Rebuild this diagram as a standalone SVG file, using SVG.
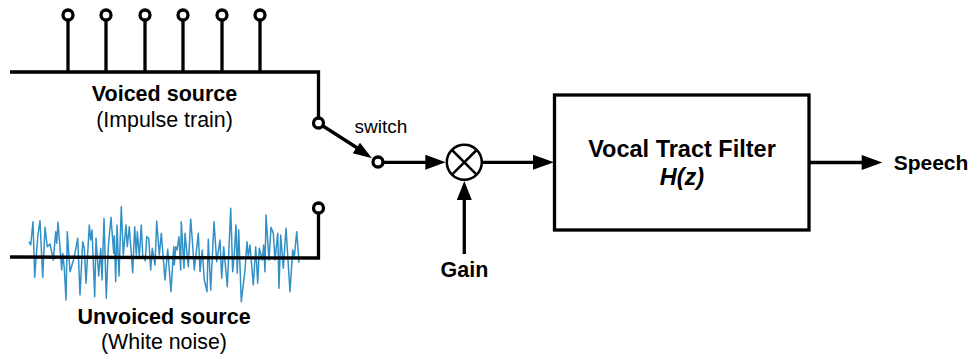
<svg xmlns="http://www.w3.org/2000/svg" width="972" height="356" viewBox="0 0 972 356">
<style>
.w{fill:none;stroke:#000;stroke-width:3.300}
.t{fill:none;stroke:#000;stroke-width:3.300;stroke-linejoin:miter}
.c{fill:#fff;stroke:#000;stroke-width:3.300}
.h{fill:#000;stroke:none}
text{font-family:"Liberation Sans",Arial,sans-serif;fill:#000;text-anchor:middle}
.b{font-weight:700;font-size:21.500px}
.r{font-size:21.400px}
</style>
<rect width="972" height="356" fill="#fff"/>
<g id="voiced-source">
<path class="t" d="M10 72H318.500V118"/>
<path class="w" d="M68 72V20M106 72V20M145 72V20M183 72V20M222 72V20M260 72V20"/>
<circle class="c" cx="68" cy="15" r="5"/><circle class="c" cx="106" cy="15" r="5"/><circle class="c" cx="145" cy="15" r="5"/><circle class="c" cx="183" cy="15" r="5"/><circle class="c" cx="222" cy="15" r="5"/><circle class="c" cx="260" cy="15" r="5"/>
<text class="b" x="164.500" y="100.500">Voiced source</text>
<text class="r" x="164.500" y="126.500">(Impulse train)</text>
</g>
<g id="unvoiced-source">
<polyline fill="none" stroke="#3390c6" stroke-width="1.500" stroke-linejoin="round" points="29,241.700 30.700,245 33,221.700 34.700,277.300 37.700,236.700 40,220.700 42.700,277.300 45,227.300 47.300,246.700 50,244 53.300,260 55.700,231.700 56.700,243.300 58,222.300 61.700,270 62.700,253.300 64.300,268.300 66,300 67.300,231.700 70,271.700 74,258.300 77.700,238.300 80,295 82.700,241.700 84.300,248.300 86,283.300 89.300,225 90.700,240 92,230 94.700,296.700 96,238.300 98.700,276 100.700,248.300 102,280 104,218.300 106.300,298.300 108.300,246.700 111,217.300 113.700,253.300 114.300,235.700 115.700,281.700 117,225 119,276 121.300,206.700 123.300,255 126,225 127.300,246.700 129.300,226.700 132.700,272.700 134.700,226.700 136.300,255 137.300,231.700 139.300,256.700 141.300,225 142.700,255 145.300,260.700 146.700,236.700 148.700,238.300 150.700,270 152.300,248.300 155,265 156.700,221 159.300,255 161.300,233.300 165,280 167.700,249.300 171,291.700 173.700,246.700 174.300,265 175.700,246.700 177,250 179,236.700 180.700,270 181.300,221.700 184,268.300 185,233.300 188.300,266.700 190.700,219 192.300,240 194.300,270 198.300,233.300 200,271.700 202.300,250 204.300,280 207,291.700 208.300,239.300 210.700,290 214,221.700 216.700,261.700 220,240 221.700,278.300 223.700,246.700 227.300,286.700 230.700,208.300 232.700,271.700 234.300,253.300 236,225 237.300,273.300 238.700,230 241.300,301.700 245,270 247,241.700 248.300,256.700 250,245 253.300,285 255.700,246.700 257.700,283.300 259.300,248.300 262.300,260 263.700,245 265,271.700 266,215 269,260 271,227.300 273.300,233.300 275,260 277.700,233.300 279,288.300 280.700,235 283.300,268.300 286,228.300 290,291.700 292.700,250 294.300,256.700 296.700,231.700 299,262.700"/>
<path class="t" d="M10 257L318.500 258V213"/>
<circle class="c" cx="318.500" cy="208" r="5"/>
<text class="b" x="164" y="323.500">Unvoiced source</text>
<text class="r" x="164" y="348.500">(White noise)</text>
</g>
<g id="switch">
<circle class="c" cx="318.500" cy="123" r="5"/>
<circle class="c" cx="378" cy="162" r="5"/>
<text x="381" y="132.500" font-size="19px">switch</text>
</g>
<g id="multiplier">
<circle class="c" cx="464.300" cy="162.300" r="17.500" style="stroke-width:2.500"/>
<path class="w" style="stroke-width:2.500" d="M452 150L476.600 174.600M476.600 150L452 174.600"/>
</g>
<g id="gain"><text class="b" x="464.500" y="277">Gain</text></g>
<g id="filter">
<rect class="c" x="554.500" y="95" width="254.500" height="135"/>
<text class="b" x="682" y="157.300" style="font-size:23.500px">Vocal Tract Filter</text>
<text class="b" x="682" y="185" font-style="italic" style="font-size:23.500px">H(z)</text>
</g>
<g id="speech"><text class="b" x="931" y="170" style="font-size:21px">Speech</text></g>
<g id="connectors">
<path class="w" d="M323 126L362 151"/><path class="h" d="M372 158.300L352.700 153.300L360 142.700Z"/>
<path class="w" d="M383 162.300H430"/><path class="h" d="M445.700 162.300L425.300 154.800V169.800Z"/>
<path class="w" d="M482 162.300H535"/><path class="h" d="M554 162.300L533 154.800V169.800Z"/>
<path class="w" d="M464.300 254V196"/><path class="h" d="M464.300 181L456.800 200H471.800Z"/>
<path class="w" d="M809 162.500H865"/><path class="h" d="M882.300 162.500L861.700 155V170Z"/>
</g>
</svg>
